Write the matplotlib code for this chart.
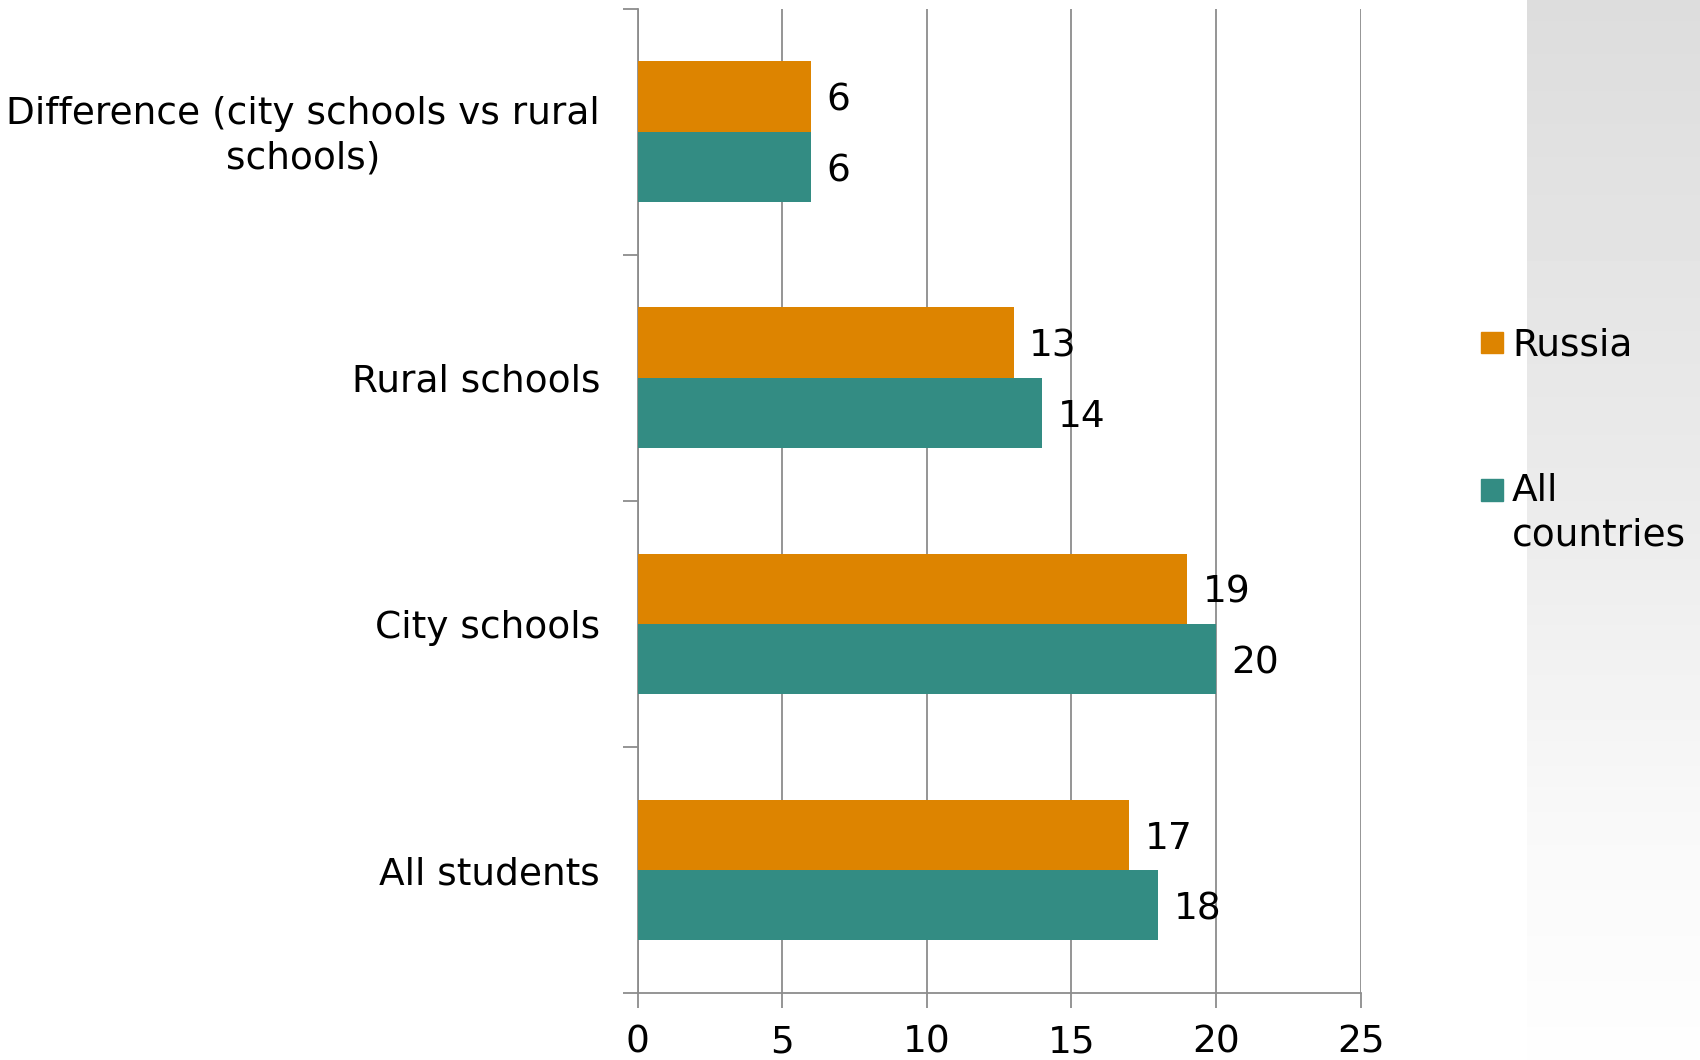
import numpy as np
import matplotlib
matplotlib.use("Agg")
import matplotlib.pyplot as plt
from matplotlib.patches import Rectangle

plt.rcParams['font.family'] = ['DejaVu Sans']

# Data (bottom to top)
categories = ["All students", "City schools", "Rural schools",
              "Difference (city schools vs rural\nschools)"]
russia = [17, 19, 13, 6]
all_countries = [18, 20, 14, 6]
series_names = ["Russia", "All\ncountries"]
xticks = [0, 5, 10, 15, 20, 25]

c_russia = "#DD8400"
c_all = "#338C83"
axis_grey = "#8C8C8C"
fs = 27

fig = plt.figure(figsize=(17, 10.6), dpi=100)

# grey gradient panel on the right edge
bg = fig.add_axes([0.898, 0.0, 0.102, 1.0], zorder=-5)
grad = np.interp(np.linspace(0, 1, 256), [0.0, 0.5, 0.78, 1.0],
                 [0.865, 0.925, 0.975, 0.995])
bg.imshow(np.repeat(grad[:, None], 2, axis=1), cmap="gray", vmin=0, vmax=1,
          aspect="auto", extent=[0, 1, 0, 1])
bg.set_xlim(0, 1)
bg.set_ylim(0, 1)
bg.set_axis_off()

ax = fig.add_axes([0.375, 0.0632, 0.4254, 0.9286])
y = np.arange(len(categories))
h = 0.286
b1 = ax.barh(y + h / 2, russia, height=h, color=c_russia, zorder=3)
b2 = ax.barh(y - h / 2, all_countries, height=h, color=c_all, zorder=3)

for bars, vals in ((b1, russia), (b2, all_countries)):
    for rect, v in zip(bars, vals):
        ax.annotate(f"{v}", (v, rect.get_y() + rect.get_height() / 2),
                    xytext=(11, -3), textcoords="offset points",
                    ha="left", va="center", fontsize=fs, color="black")

ax.set_xlim(0, 25)
ax.set_ylim(-0.5, len(categories) - 0.5)
ax.set_xticks(xticks)
ax.set_xticklabels([str(t) for t in xticks], fontsize=fs)
ax.xaxis.grid(True, color=axis_grey, linewidth=1.3, zorder=0)
ax.set_axisbelow(True)

# category labels at group centres, tick marks at group boundaries
ax.set_yticks(np.arange(-0.5, len(categories), 1.0))
ax.set_yticklabels([])
ax.tick_params(axis="y", length=11, width=1.3, color=axis_grey)
ax.tick_params(axis="x", length=11, width=1.3, color=axis_grey, pad=12)
for yi, lab in zip(y, categories):
    ax.annotate(lab, (0, yi), xytext=(-27, -3), textcoords="offset points",
                ha="right", va="center", multialignment="center",
                fontsize=fs, linespacing=1.3)

for s in ("top", "right"):
    ax.spines[s].set_visible(False)
for s in ("left", "bottom"):
    ax.spines[s].set_color(axis_grey)
    ax.spines[s].set_linewidth(1.3)

# legend
fig.patches.append(Rectangle((0.8712, 0.6768 - 0.0102), 0.0128, 0.0205,
                             transform=fig.transFigure, color=c_russia))
fig.text(0.8895, 0.6740, series_names[0], fontsize=fs, ha="left",
         va="center", transform=fig.transFigure)
fig.patches.append(Rectangle((0.8712, 0.5377 - 0.0102), 0.0128, 0.0205,
                             transform=fig.transFigure, color=c_all))
fig.text(0.8895, 0.5535, series_names[1], fontsize=fs, ha="left",
         va="top", linespacing=1.3, transform=fig.transFigure)

fig.savefig("out.png", dpi=100)
